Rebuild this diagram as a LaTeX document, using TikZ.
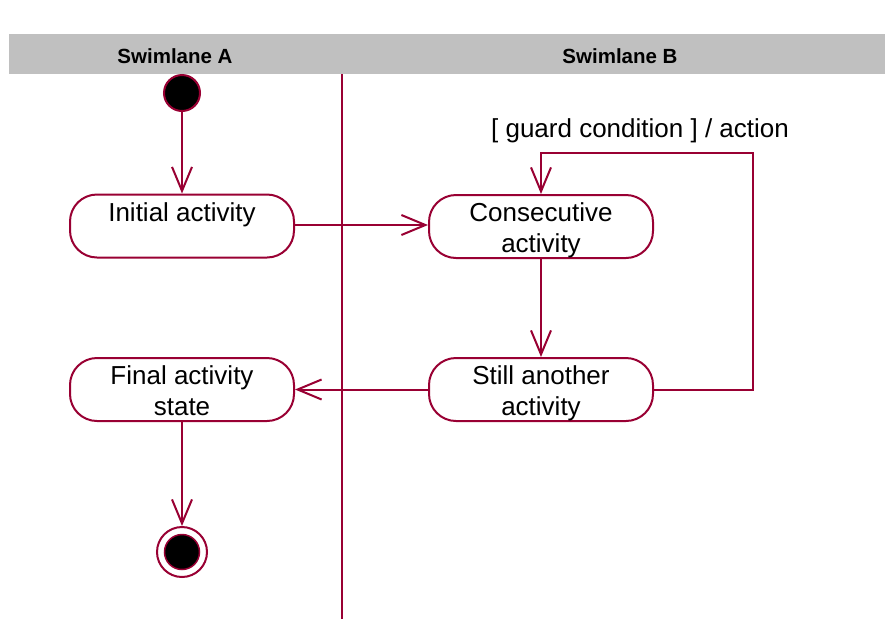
\documentclass[tikz,border=0pt]{standalone}
\usepackage{fontspec}
\setmainfont{Liberation Sans}
\usetikzlibrary{arrows.meta}
\definecolor{flow}{RGB}{153,0,51}
\definecolor{lanegray}{RGB}{192,192,192}
\begin{document}
\begin{tikzpicture}[x=1pt,y=-1pt,
  flowline/.style={draw=flow, line width=2pt},
  arrowline/.style={flowline, -{Straight Barb[length=24pt,width=20pt]}},
  activity/.style={draw=flow, line width=2pt, fill=white, rounded corners=27pt,
    minimum width=224pt, minimum height=63pt, inner sep=0pt},
  actlabel/.style={anchor=north, yshift=-8.5pt, inner sep=0pt, align=center,
    font=\fontsize{26}{31}\selectfont},
  lanetitle/.style={font=\bfseries\fontsize{20.5}{24}\selectfont, inner sep=0pt},
  startstate/.style={circle, draw=flow, line width=2pt, fill=black,
    minimum size=36pt, inner sep=0pt},
  endring/.style={circle, draw=flow, line width=2pt, fill=white,
    minimum size=50pt, inner sep=0pt},
  enddot/.style={circle, draw=flow, line width=1.5pt, fill=black,
    minimum size=35pt, inner sep=0pt}]

% canvas
\useasboundingbox[fill=white] (0,0) rectangle (885,619);

% swimlane header
\fill[lanegray] (9,34) rectangle (885,74);
\node[lanetitle] (laneA) at (175,56) {Swimlane A};
\node[lanetitle] (laneB) at (620,56) {Swimlane B};

% lane divider
\coordinate (divTop) at (342,74);
\coordinate (divBot) at (342,619);
\draw[flowline] (divTop) -- (divBot);

% states
\node[startstate] (start) at (182,93) {};
\node[activity, label={[actlabel]north:Initial activity}] (init) at (182,226) {};
\node[activity, label={[actlabel]north:Consecutive\\activity}] (cons) at (541,226.5) {};
\node[activity, label={[actlabel]north:Still another\\activity}] (still) at (541,389.5) {};
\node[activity, label={[actlabel]north:Final activity\\state}] (final) at (182,389.5) {};
\node[endring] (finish) at (182,552) {};
\node[enddot] (finishDot) at (finish.center) {};

% guard label of the loop
\node[font=\fontsize{26}{31}\selectfont, anchor=base, inner sep=0pt] (guard)
  at (640,137) {[ guard condition ] / action};

% transitions
\draw[arrowline] (start) -- (init);
\draw[arrowline] (init.east |- 0,225) -- (cons.west |- 0,225);
\draw[arrowline] (cons) -- (still);
\coordinate (loopCorner) at (753,153);
\draw[arrowline] (still.east) -| (loopCorner) -| (cons.north);
\draw[arrowline] (still.west) -- (final.east);
\draw[arrowline] (final) -- (finish);

\end{tikzpicture}
\end{document}
